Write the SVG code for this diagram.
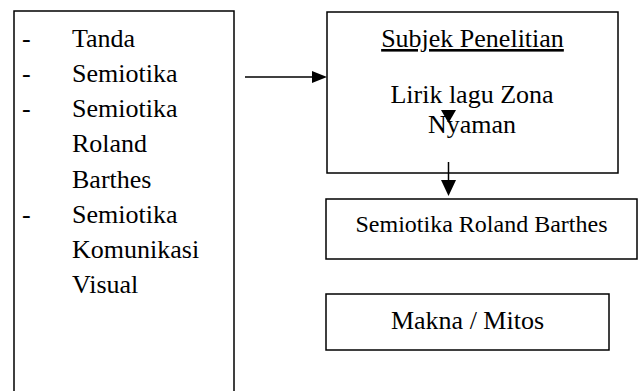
<svg xmlns="http://www.w3.org/2000/svg" width="640" height="391" viewBox="0 0 640 391">
<style>
.box{fill:#fff;stroke:#000;stroke-width:1.5}
.t{font-family:'Liberation Serif','Times New Roman','DejaVu Serif',serif;font-size:26px;fill:#000}
.s{font-family:'Liberation Serif','Times New Roman','DejaVu Serif',serif;font-size:24px;fill:#000}
.ln{stroke:#000;stroke-width:1.5;fill:none}
</style>
<rect width="640" height="391" fill="#fff"/>
<g id="teori" font-family="Liberation Serif, serif">
<rect class="box" x="14" y="11" width="220" height="390"/>
<text class="t" x="22" y="47">-</text><text class="t" x="72" y="47">Tanda</text>
<text class="t" x="22" y="82">-</text><text class="t" x="72" y="82">Semiotika</text>
<text class="t" x="22" y="117">-</text><text class="t" x="72" y="117">Semiotika</text>
<text class="t" x="72" y="152">Roland</text>
<text class="t" x="72" y="188">Barthes</text>
<text class="t" x="22" y="223">-</text><text class="t" x="72" y="223">Semiotika</text>
<text class="t" x="72" y="258">Komunikasi</text>
<text class="t" x="72" y="293">Visual</text>
</g>
<g id="subjek">
<rect class="box" x="327" y="12" width="291" height="161"/>
<text class="t" x="472.5" y="47" text-anchor="middle" text-decoration="underline">Subjek Penelitian</text>
<text class="t" x="472" y="103" text-anchor="middle">Lirik lagu Zona</text>
<text class="t" x="472" y="133" text-anchor="middle">Nyaman</text>
</g>
<g id="semiotika">
<rect class="box" x="326" y="199" width="311" height="60"/>
<text class="s" x="481.5" y="232" text-anchor="middle">Semiotika Roland Barthes</text>
</g>
<g id="makna">
<rect class="box" x="326" y="294" width="283" height="56"/>
<text class="t" x="467.5" y="329" text-anchor="middle">Makna / Mitos</text>
</g>
<g id="connectors">
<line class="ln" x1="245" y1="77" x2="313" y2="77"/>
<polygon points="312,71 327,77 312,83" fill="#000"/>
<polygon points="441,110 456,110 448.5,123" fill="#000"/>
<line class="ln" x1="448.5" y1="162" x2="448.5" y2="180"/>
<polygon points="441,180 456,180 448.5,196" fill="#000"/>
</g>
</svg>
